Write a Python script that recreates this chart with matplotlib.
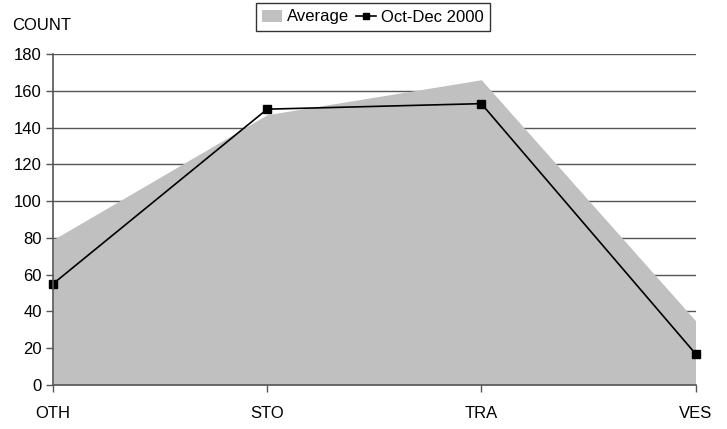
import matplotlib.pyplot as plt
from matplotlib.patches import Patch
from matplotlib.lines import Line2D

plt.rcParams['font.family'] = ['Liberation Sans', 'DejaVu Sans']

categories = ['OTH', 'STO', 'TRA', 'VES']
average = [79, 147, 166, 35]
oct_dec_2000 = [55, 150, 153, 17]
y_ticks = [0, 20, 40, 60, 80, 100, 120, 140, 160, 180]

fig = plt.figure(figsize=(7.27, 4.29), dpi=100)
ax = fig.add_axes([53 / 727, 44 / 429, (695.5 - 53) / 727, (385 - 54) / 429])

x = list(range(len(categories)))

# серая область "Average" и линия с маркерами поверх неё
ax.fill_between(x, average, 0, color='#c0c0c0', linewidth=0, zorder=2)
ax.plot(x, oct_dec_2000, color='black', linewidth=1.2, marker='s',
        markersize=6, zorder=3, clip_on=False)

ax.set_xlim(0, len(categories) - 1)
ax.set_ylim(0, 180)
ax.set_yticks(y_ticks)
ax.set_xticks(x)
ax.set_xticklabels(categories)

ax.grid(axis='y', color='#555555', linewidth=1.0, zorder=1)
ax.set_axisbelow(True)
for side in ['top', 'right']:
    ax.spines[side].set_visible(False)
for side in ['left', 'bottom']:
    ax.spines[side].set_color('#555555')
    ax.spines[side].set_linewidth(1.2)
    ax.spines[side].set_zorder(4)

ax.tick_params(axis='both', labelsize=12, length=5, width=1, color='#555555',
               direction='out')
ax.tick_params(axis='x', pad=10)
ax.tick_params(axis='y', pad=3)

fig.text(12 / 727, 1 - 25 / 429, 'COUNT', fontsize=12, va='center', ha='left')

handles = [Patch(facecolor='#c0c0c0', edgecolor='none'),
           Line2D([0], [0], color='black', linewidth=1.2, marker='s', markersize=5)]
leg = fig.legend(handles, ['Average', 'Oct-Dec 2000'], loc='center',
                 bbox_to_anchor=(373 / 727, 1 - 17 / 429), ncol=2, fontsize=12,
                 frameon=True, fancybox=False, borderpad=0.4, handlelength=1.2,
                 handletextpad=0.3, columnspacing=0.4, borderaxespad=0)
leg.get_frame().set_edgecolor('black')
leg.get_frame().set_linewidth(1.0)

plt.savefig('out.png', dpi=100)
plt.close()
